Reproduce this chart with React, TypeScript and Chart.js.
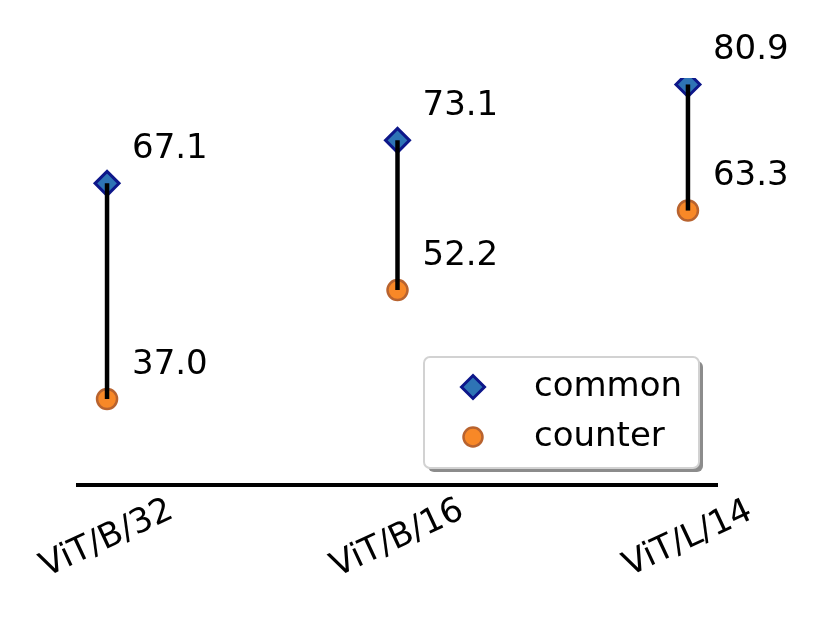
import { useEffect, useRef } from 'react';
import { Chart, registerables } from 'chart.js';

Chart.register(...registerables);

const categories = ['ViT/B/32', 'ViT/B/16', 'ViT/L/14'];
const commonValues = [67.1, 73.1, 80.9];
const counterValues = [37.0, 52.2, 63.3];
const seriesNames = ['common', 'counter'];

const FONT = "'DejaVu Sans', 'Liberation Sans', sans-serif";
const COMMON_FILL = '#2e74b5';
const COMMON_EDGE = '#0d178a';
const COUNTER_FILL = '#f88827';
const COUNTER_EDGE = '#b8632f';

function drawDiamond(ctx: CanvasRenderingContext2D, x: number, y: number, r: number) {
  ctx.beginPath();
  ctx.moveTo(x - r, y);
  ctx.lineTo(x, y - r);
  ctx.lineTo(x + r, y);
  ctx.lineTo(x, y + r);
  ctx.closePath();
}

const overlayPlugin = {
  id: 'overlay',
  afterDraw(chart: any) {
    const ctx: CanvasRenderingContext2D = chart.ctx;
    const xs = chart.scales.x;
    const ys = chart.scales.y;
    const area = chart.chartArea;
    ctx.save();
    // value labels
    ctx.fillStyle = '#000';
    ctx.font = `34px ${FONT}`;
    ctx.textAlign = 'left';
    ctx.textBaseline = 'middle';
    [commonValues, counterValues].forEach((vals) => {
      vals.forEach((v, i) => {
        const px = xs.getPixelForValue(i);
        const py = ys.getPixelForValue(v);
        ctx.fillText(v.toFixed(1), px + 25, py - 34);
      });
    });
    // rotated category labels
    categories.forEach((c, i) => {
      const px = xs.getPixelForValue(i);
      ctx.save();
      ctx.translate(px, area.bottom + 54);
      ctx.rotate((-25 * Math.PI) / 180);
      ctx.textAlign = 'center';
      ctx.textBaseline = 'middle';
      ctx.fillText(c, 0, 0);
      ctx.restore();
    });
    // legend
    const right = area.right - 18;
    const bottom = area.bottom - 17;
    const w = 275;
    const h = 111;
    const left = right - w;
    const top = bottom - h;
    const rr = 6;
    const rounded = (x: number, y: number) => {
      ctx.beginPath();
      ctx.moveTo(x + rr, y);
      ctx.lineTo(x + w - rr, y);
      ctx.arcTo(x + w, y, x + w, y + rr, rr);
      ctx.lineTo(x + w, y + h - rr);
      ctx.arcTo(x + w, y + h, x + w - rr, y + h, rr);
      ctx.lineTo(x + rr, y + h);
      ctx.arcTo(x, y + h, x, y + h - rr, rr);
      ctx.lineTo(x, y + rr);
      ctx.arcTo(x, y, x + rr, y, rr);
      ctx.closePath();
    };
    rounded(left + 4, top + 4);
    ctx.fillStyle = 'rgba(120,120,120,0.85)';
    ctx.fill();
    rounded(left, top);
    ctx.fillStyle = '#ffffff';
    ctx.fill();
    ctx.strokeStyle = '#d2d2d2';
    ctx.lineWidth = 2;
    ctx.stroke();

    const mx = left + 49;
    const y1 = top + 30;
    const y2 = top + 80;
    drawDiamond(ctx, mx, y1, 11.5);
    ctx.fillStyle = COMMON_FILL;
    ctx.fill();
    ctx.strokeStyle = COMMON_EDGE;
    ctx.lineWidth = 3;
    ctx.stroke();
    ctx.beginPath();
    ctx.arc(mx, y2, 9.5, 0, Math.PI * 2);
    ctx.fillStyle = COUNTER_FILL;
    ctx.fill();
    ctx.strokeStyle = COUNTER_EDGE;
    ctx.lineWidth = 2.5;
    ctx.stroke();

    ctx.fillStyle = '#000';
    ctx.font = `34px ${FONT}`;
    ctx.textAlign = 'left';
    ctx.textBaseline = 'middle';
    ctx.fillText(seriesNames[0], left + 110, y1);
    ctx.fillText(seriesNames[1], left + 110, y2);
    ctx.restore();
  },
};

export default function App() {
  const ref = useRef<HTMLCanvasElement>(null);
  useEffect(() => {
    if (!ref.current) return;
    const stems = categories.map((_, i) => ({
      label: 'stem' + i,
      data: [
        { x: i, y: counterValues[i] },
        { x: i, y: commonValues[i] },
      ],
      showLine: true,
      borderColor: '#000',
      borderWidth: 4.5,
      pointRadius: 0,
      pointHoverRadius: 0,
      order: 0,
    }));
    const chart = new Chart(ref.current, {
      type: 'scatter',
      data: {
        datasets: [
          ...stems,
          {
            label: seriesNames[0],
            data: commonValues.map((v, i) => ({ x: i, y: v })),
            pointStyle: 'rectRot',
            pointRadius: 12,
            pointBackgroundColor: COMMON_FILL,
            pointBorderColor: COMMON_EDGE,
            pointBorderWidth: 3,
            clip: 0,
            order: 1,
          },
          {
            label: seriesNames[1],
            data: counterValues.map((v, i) => ({ x: i, y: v })),
            pointStyle: 'circle',
            pointRadius: 10,
            pointBackgroundColor: COUNTER_FILL,
            pointBorderColor: COUNTER_EDGE,
            pointBorderWidth: 2.5,
            order: 2,
          },
        ] as any,
      },
      options: {
        animation: false,
        responsive: true,
        maintainAspectRatio: false,
        layout: {
          autoPadding: false,
          padding: { left: 78, right: 105, top: 78, bottom: 140 },
        },
        plugins: {
          legend: { display: false },
          tooltip: { enabled: false },
        },
        scales: {
          x: {
            type: 'linear',
            min: -0.1,
            max: 2.1,
            grid: { display: false, drawTicks: false },
            ticks: { display: false },
            border: { display: true, color: '#000', width: 4 },
          },
          y: {
            display: false,
            min: 25,
            max: 81.8,
          },
        },
      },
      plugins: [overlayPlugin],
    });
    return () => chart.destroy();
  }, []);
  return (
    <div style={{ position: 'absolute', left: 0, top: 0, width: 822, height: 625, background: '#fff' }}>
      <canvas ref={ref} />
    </div>
  );
}
